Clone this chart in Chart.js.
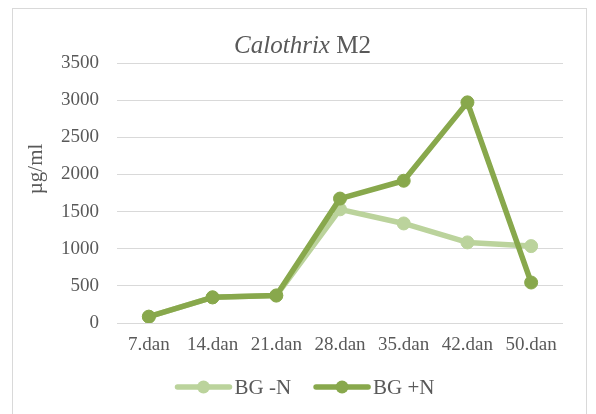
<!DOCTYPE html>
<html>
<head>
<meta charset="utf-8">
<script src="https://cdn.jsdelivr.net/npm/chart.js@4/dist/chart.umd.min.js"></script>
<style>
  html, body { margin: 0; padding: 0; background: #ffffff; }
  #wrap { position: relative; width: 596px; height: 414px; overflow: hidden; }
  #frame { position: absolute; left: 12px; top: 8px; width: 575px; height: 430px; border: 1px solid #D9D9D9; box-sizing: border-box; }
  canvas { position: absolute; left: 0; top: 0; }
</style>
</head>
<body>
<div id="wrap">
  <div id="frame"></div>
  <canvas id="c" width="596" height="414"></canvas>
</div>
<script>
const categories = ['7.dan', '14.dan', '21.dan', '28.dan', '35.dan', '42.dan', '50.dan'];
const bgMinusN = [85, 345, 370, 1530, 1340, 1085, 1035];
const bgPlusN = [85, 345, 370, 1675, 1915, 2970, 545];
const seriesNames = ['BG -N', 'BG +N'];
const yTicks = [0, 500, 1000, 1500, 2000, 2500, 3000, 3500];
const titleItalic = 'Calothrix';
const titleRest = ' M2';
const yTitle = 'µg/ml';

const lightGreen = '#BBD39C';
const darkGreen = '#88A84C';
const textColor = '#595959';
const serif = '"Liberation Serif", "Times New Roman", serif';

const decor = {
  id: 'decor',
  afterDraw(chart) {
    const ctx = chart.ctx;
    ctx.save();
    ctx.fillStyle = textColor;
    // title
    ctx.textBaseline = 'alphabetic';
    ctx.font = 'italic 25px ' + serif;
    const w1 = ctx.measureText(titleItalic).width;
    ctx.font = '25px ' + serif;
    const w2 = ctx.measureText(titleRest).width;
    let tx = 302.5 - (w1 + w2) / 2;
    ctx.font = 'italic 25px ' + serif;
    ctx.textAlign = 'left';
    ctx.fillText(titleItalic, tx, 53);
    ctx.font = '25px ' + serif;
    ctx.fillText(titleRest, tx + w1, 53);
    // y title
    ctx.save();
    ctx.translate(36, 169);
    ctx.rotate(-Math.PI / 2);
    ctx.font = '21px ' + serif;
    ctx.textAlign = 'center';
    ctx.textBaseline = 'middle';
    ctx.fillText(yTitle, 0, 0);
    ctx.restore();
    // legend
    ctx.font = '21px ' + serif;
    ctx.textBaseline = 'middle';
    ctx.textAlign = 'left';
    const ds = chart.data.datasets;
    const lineLen = 56, gap = 3, itemGap = 23;
    let total = 0;
    ds.forEach((d, i) => {
      total += lineLen + gap + ctx.measureText(d.label).width;
      if (i < ds.length - 1) total += itemGap;
    });
    let x = 305 - total / 2;
    const y = 387;
    ds.forEach((d) => {
      ctx.strokeStyle = d.borderColor;
      ctx.lineWidth = 5.5;
      ctx.lineCap = 'round';
      ctx.beginPath();
      ctx.moveTo(x + 2, y);
      ctx.lineTo(x + lineLen - 2, y);
      ctx.stroke();
      ctx.fillStyle = d.pointBackgroundColor;
      ctx.beginPath();
      ctx.arc(x + lineLen / 2, y, 6.5, 0, Math.PI * 2);
      ctx.fill();
      ctx.fillStyle = textColor;
      ctx.fillText(d.label, x + lineLen + gap, y + 1);
      x += lineLen + gap + ctx.measureText(d.label).width + itemGap;
    });
    ctx.restore();
  }
};

new Chart(document.getElementById('c'), {
  type: 'line',
  data: {
    labels: categories,
    datasets: [
      {
        label: seriesNames[0], data: bgMinusN, order: 2,
        borderColor: lightGreen, backgroundColor: lightGreen,
        pointBackgroundColor: lightGreen, pointBorderColor: lightGreen,
        borderWidth: 5.5, pointRadius: 6.5, pointBorderWidth: 1, tension: 0,
        borderCapStyle: 'round', borderJoinStyle: 'round'
      },
      {
        label: seriesNames[1], data: bgPlusN, order: 1,
        borderColor: darkGreen, backgroundColor: darkGreen,
        pointBackgroundColor: darkGreen, pointBorderColor: darkGreen,
        borderWidth: 5.5, pointRadius: 6.5, pointBorderWidth: 1, tension: 0,
        borderCapStyle: 'round', borderJoinStyle: 'round'
      }
    ]
  },
  options: {
    responsive: false,
    animation: false,
    layout: { padding: { top: 63, left: 0, right: 33, bottom: 0 } },
    plugins: { legend: { display: false }, title: { display: false }, tooltip: { enabled: false } },
    scales: {
      x: {
        offset: true,
        grid: { display: false, drawTicks: false, offset: true },
        border: { display: false },
        ticks: { color: textColor, font: { family: serif, size: 19 }, padding: 11, maxRotation: 0 },
        afterFit(scale) { scale.height = 91; }
      },
      y: {
        min: 0, max: 3500,
        afterBuildTicks(scale) { scale.ticks = yTicks.map(v => ({ value: v })); },
        grid: { color: '#D9D9D9', lineWidth: 1, drawTicks: false },
        border: { display: false },
        ticks: { color: textColor, font: { family: serif, size: 19 }, padding: 18, callback: (v) => String(v) },
        afterFit(scale) { scale.width = 117; }
      }
    }
  },
  plugins: [decor]
});
</script>
</body>
</html>
